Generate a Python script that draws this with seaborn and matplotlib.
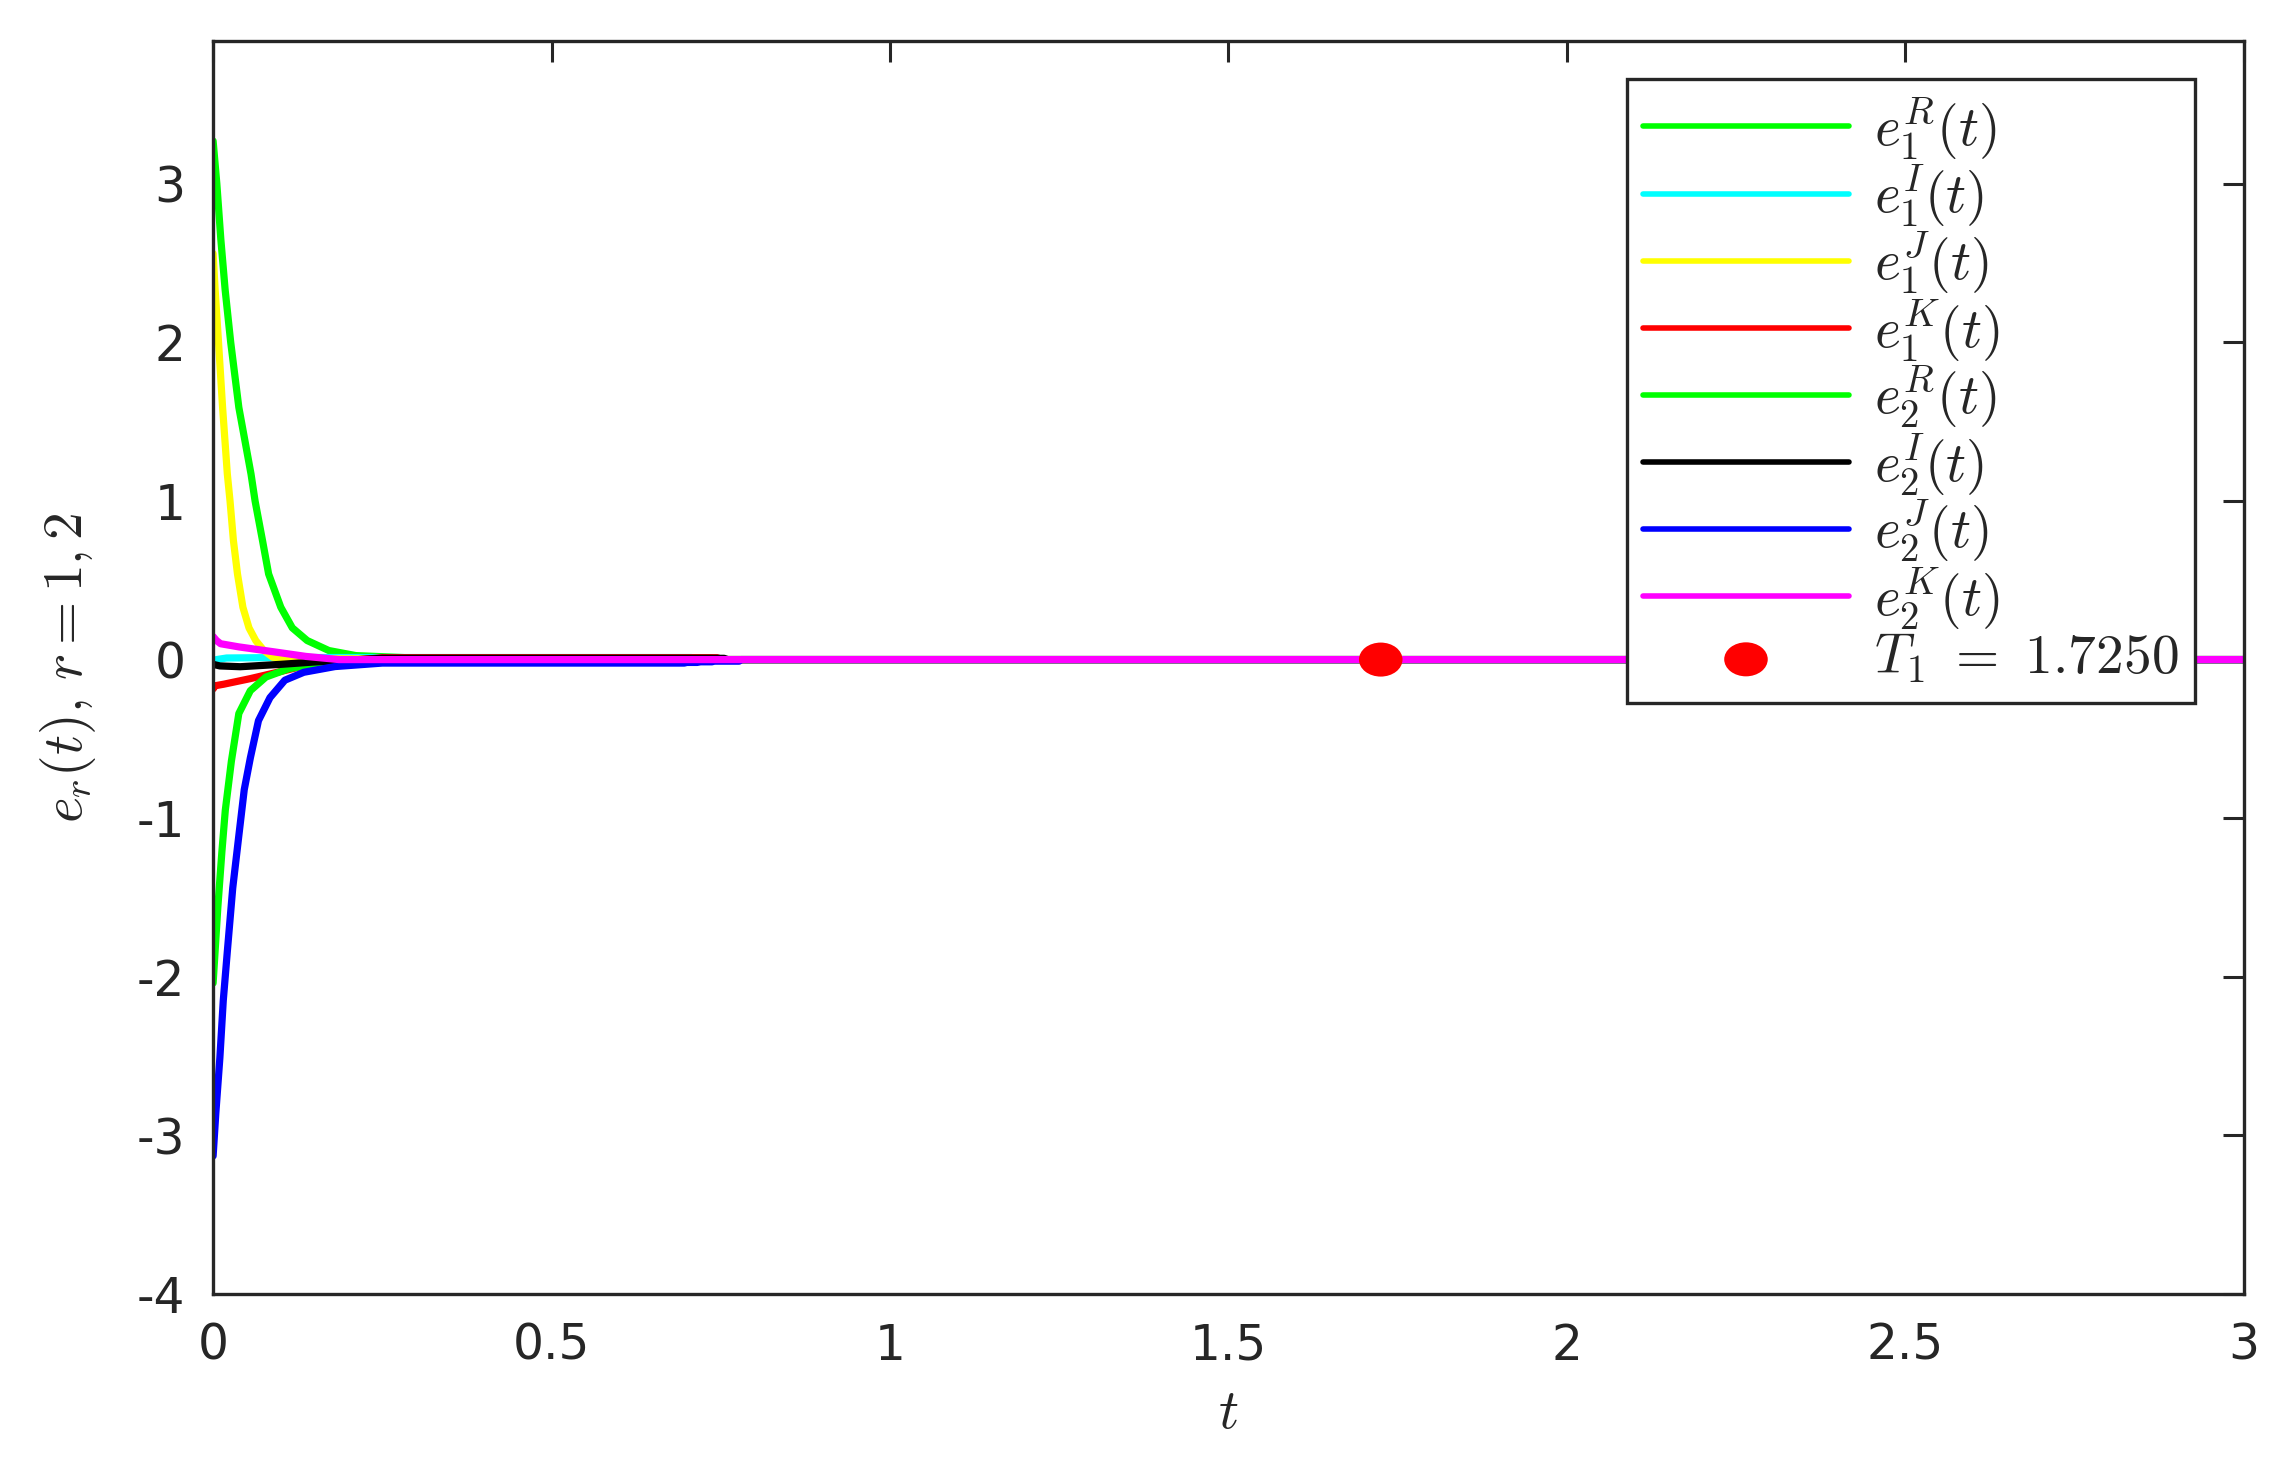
"""Synchronization error trajectories e_r(t) with settling-time marker T1."""

import matplotlib

matplotlib.use("Agg")
import matplotlib.pyplot as plt  # noqa: E402
import pandas as pd  # noqa: E402
import seaborn as sns  # noqa: E402
from matplotlib.markers import MarkerStyle  # noqa: E402
from matplotlib.transforms import Affine2D  # noqa: E402

# ---- data (t, value) ----
t_e1R = [0, 0.0055, 0.0114, 0.0178, 0.026, 0.038, 0.056, 0.062, 0.073, 0.082, 0.100,
         0.117, 0.139, 0.171, 0.211, 0.285, 0.736, 0.74, 3.0]
e1R = [3.27, 3.00, 2.65, 2.33, 2.00, 1.59, 1.17, 1.00, 0.75, 0.54, 0.33,
       0.20, 0.12, 0.057, 0.025, 0.012, 0.010, 0, 0]

t_e1I = [0, 0.005, 0.02, 0.10, 0.707, 0.71, 3.0]
e1I = [-0.02, 0.0, 0.01, 0.013, 0.013, 0, 0]

t_e1J = [0, 0.003, 0.008, 0.014, 0.021, 0.025, 0.030, 0.036, 0.044, 0.053, 0.063,
         0.075, 0.088, 0.12, 0.60, 0.61, 3.0]
e1J = [2.56, 2.33, 2.00, 1.59, 1.17, 1.00, 0.75, 0.54, 0.33, 0.20, 0.12,
       0.057, 0.015, 0.005, 0.005, 0, 0]

t_e1K = [0, 0.003, 0.016, 0.055, 0.095, 0.134, 0.18, 0.25, 0.745, 0.75, 3.0]
e1K = [-0.185, -0.165, -0.155, -0.12, -0.08, -0.04, -0.015, 0.012, 0.012, 0, 0]

t_e2R = [0, 0.007, 0.013, 0.018, 0.027, 0.038, 0.055, 0.078, 0.112, 0.151, 0.25,
         0.736, 0.74, 3.0]
e2R = [-2.04, -1.56, -1.21, -0.95, -0.64, -0.34, -0.196, -0.11, -0.057, -0.03, 0.005,
       0.005, 0, 0]

t_e2I = [0, 0.01, 0.04, 0.10, 0.15, 0.25, 0.755, 0.76, 3.0]
e2I = [-0.03, -0.04, -0.045, -0.03, -0.015, 0.008, 0.008, 0, 0]

t_e2J = [0, 0.004, 0.010, 0.015, 0.021, 0.029, 0.038, 0.046, 0.055, 0.067, 0.084,
         0.106, 0.134, 0.18, 0.25, 0.696, 0.70, 0.715, 0.72, 0.737, 0.74, 0.777, 0.78, 3.0]
e2J = [-3.13, -2.86, -2.51, -2.15, -1.84, -1.44, -1.11, -0.82, -0.62, -0.385, -0.24,
       -0.13, -0.08, -0.044, -0.022, -0.022, -0.018, -0.018, -0.014, -0.014, -0.01, -0.01, 0, 0]

t_e2K = [0, 0.005, 0.011, 0.038, 0.088, 0.137, 0.186, 3.0]
e2K = [0.145, 0.12, 0.10, 0.08, 0.05, 0.02, 0.0, 0.0]

T1 = 1.7250

series_names = [r"$e_1^R(t)$", r"$e_1^I(t)$", r"$e_1^J(t)$", r"$e_1^K(t)$",
                r"$e_2^R(t)$", r"$e_2^I(t)$", r"$e_2^J(t)$", r"$e_2^K(t)$"]
series_t = [t_e1R, t_e1I, t_e1J, t_e1K, t_e2R, t_e2I, t_e2J, t_e2K]
series_v = [e1R, e1I, e1J, e1K, e2R, e2I, e2J, e2K]
colors = ["#00ff00", "#00ffff", "#ffff00", "#ff0000",
          "#00ff00", "#000000", "#0000ff", "#ff00ff"]

xticks = [0, 0.5, 1, 1.5, 2, 2.5, 3]
xtick_labels = ["0", "0.5", "1", "1.5", "2", "2.5", "3"]
yticks = [-4, -3, -2, -1, 0, 1, 2, 3]

df = pd.concat(
    [pd.DataFrame({"t": t, "e": v, "series": name})
     for name, t, v in zip(series_names, series_t, series_v)],
    ignore_index=True,
)

sns.set_style("white")
plt.rcParams["font.family"] = ["DejaVu Sans"]
plt.rcParams["mathtext.fontset"] = "cm"
plt.rcParams["axes.unicode_minus"] = False

fig = plt.figure(figsize=(11.47, 7.30), dpi=200)
ax = fig.add_axes([0.0929, 0.1137, 0.8852, 0.8582])

sns.lineplot(
    data=df, x="t", y="e", hue="series", palette=colors,
    hue_order=series_names, sort=False, estimator=None,
    linewidth=2.6, ax=ax, zorder=2,
)
ellipse = MarkerStyle("o", transform=Affine2D().scale(1.28, 1.0))
sns.scatterplot(
    x=[T1], y=[0.0], ax=ax, color="#ff0000", marker=ellipse, s=150,
    edgecolor="none", label=r"$T_1\ =\ 1.7250$", zorder=5,
)

ax.set_xlim(0, 3)
ax.set_ylim(-4, 3.9)
ax.set_xticks(xticks)
ax.set_xticklabels(xtick_labels)
ax.set_yticks(yticks)
ax.tick_params(direction="in", length=7.5, width=1.1, top=True, right=True,
               labelsize=17.5, colors="#262626", pad=10)
for spine in ax.spines.values():
    spine.set_color("#262626")
    spine.set_linewidth(1.2)

ax.set_xlabel(r"$t$", fontsize=20, color="#262626", labelpad=6)
ax.set_ylabel(r"$e_r(t),\, r=1,2$", fontsize=20, color="#262626", labelpad=14)

leg = ax.legend(
    loc="upper right", bbox_to_anchor=(0.976, 0.970), borderaxespad=0,
    fontsize=20, handlelength=3.7, handletextpad=0.45, labelspacing=0.0,
    borderpad=0.3, frameon=True, fancybox=False, framealpha=1.0, markerscale=1.0,
)
leg.get_frame().set_edgecolor("#262626")
leg.get_frame().set_linewidth(1.2)
for line in leg.get_lines():
    line.set_linewidth(2.0)

fig.savefig("out.png", dpi=200, facecolor="white")
plt.close(fig)
